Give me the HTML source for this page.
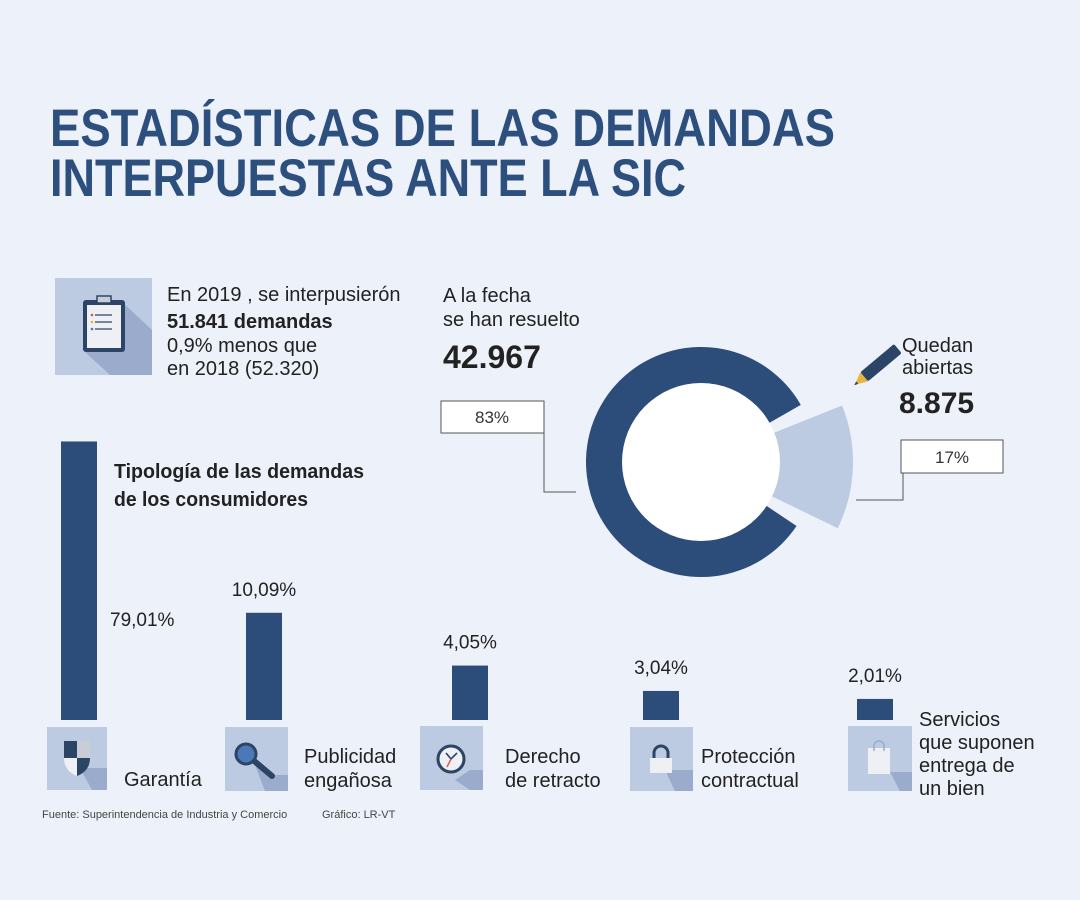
<!DOCTYPE html>
<html><head><meta charset="utf-8"><style>
html,body{margin:0;padding:0;background:#edf1f9;}
svg{display:block;font-family:"Liberation Sans",sans-serif;}
</style></head><body>
<svg id="chart" width="1080" height="900" viewBox="0 0 1080 900" xmlns="http://www.w3.org/2000/svg">
<rect width="1080" height="900" fill="#edf1f9"/>
<g fill="#2c4f7e" font-weight="bold" font-size="53">
<text x="50" y="146" textLength="785" lengthAdjust="spacingAndGlyphs">ESTADÍSTICAS DE LAS DEMANDAS</text>
<text x="50" y="196" textLength="636" lengthAdjust="spacingAndGlyphs">INTERPUESTAS ANTE LA SIC</text>
</g>

<g>
<rect x="55" y="278" width="97" height="97" fill="#bccae2"/>
<polygon points="85,352 120,352 152,375 110,375" fill="#9aabcc"/>
<polygon points="120,300 152,330 152,375 120,352" fill="#9aabcc"/>
<rect x="83" y="300" width="42" height="52" rx="3" fill="#2c4466"/>
<rect x="87" y="305" width="34" height="43" fill="#eef0f3"/>
<rect x="97" y="296" width="14" height="7" fill="#c9ced6" stroke="#2c4466" stroke-width="1.5"/>
<circle cx="92" cy="315" r="1.3" fill="#d9534f"/><line x1="95" y1="315" x2="112" y2="315" stroke="#2c4466" stroke-width="1.3"/>
<circle cx="92" cy="322" r="1.3" fill="#e8b43c"/><line x1="95" y1="322" x2="112" y2="322" stroke="#2c4466" stroke-width="1.3"/>
<circle cx="92" cy="329" r="1.3" fill="#4a78b8"/><line x1="95" y1="329" x2="112" y2="329" stroke="#2c4466" stroke-width="1.3"/>
</g>
<g fill="#222" font-size="20">
<text x="167" y="301">En 2019 , se interpusierón</text>
<text x="167" y="328" font-weight="bold">51.841 demandas</text>
<text x="167" y="352">0,9% menos que</text>
<text x="167" y="375">en 2018 (52.320)</text>
</g>

<g fill="#222">
<text x="443" y="302" font-size="20">A la fecha</text>
<text x="443" y="326" font-size="20">se han resuelto</text>
<text x="443" y="368" font-size="32" font-weight="bold">42.967</text>
</g>
<g fill="#222">
<text x="902" y="352" font-size="20">Quedan</text>
<text x="902" y="374" font-size="20">abiertas</text>
<text x="899" y="413" font-size="30" font-weight="bold">8.875</text>
</g>
<g transform="translate(858,382) rotate(-40)">
<rect x="8" y="-6" width="44" height="12" rx="2" fill="#2c4466"/>
<polygon points="8,-6 8,6 -4,0" fill="#e8b43c"/>
<polygon points="-1,-1.6 -1,1.6 -5,0" fill="#2c4466"/>
</g>

<g id="donut"></g>

<g>
<rect x="441" y="401" width="103" height="32" fill="#fff" stroke="#555" stroke-width="1"/>
<text x="492" y="423" text-anchor="middle" font-size="17" fill="#333">83%</text>
<polyline points="544,433 544,492 576,492" fill="none" stroke="#555" stroke-width="1"/>
</g>
<g>
<rect x="901" y="440" width="102" height="33" fill="#fff" stroke="#555" stroke-width="1"/>
<text x="952" y="463" text-anchor="middle" font-size="17" fill="#333">17%</text>
<polyline points="903,473 903,500 856,500" fill="none" stroke="#555" stroke-width="1"/>
</g>

<g fill="#222" font-size="20" font-weight="bold">
<text x="114" y="478" textLength="250" lengthAdjust="spacingAndGlyphs">Tipología de las demandas</text>
<text x="114" y="506" textLength="194" lengthAdjust="spacingAndGlyphs">de los consumidores</text>
</g>

<g id="bars"></g>

<g>
<rect x="47" y="727" width="60" height="63" fill="#bccae2"/>
<polygon points="80,768 107,768 107,790 92,790" fill="#9aabcc"/>
<path d="M64,741 L90,741 L90,758 Q90,771 77,776 Q64,771 64,758 Z" fill="#eef0f3"/>
<path d="M64,741 L77,741 L77,758 L64,758 Z" fill="#2c4466"/>
<path d="M77,758 L90,758 Q90,771 77,776 Z" fill="#2c4466"/>
<path d="M77,741 L90,741 L90,758 L77,758 Z" fill="#c9ced6"/>
</g>
<g>
<rect x="225" y="727" width="63" height="64" fill="#bccae2"/>
<polygon points="255,765 272,775 288,775 288,791 265,791" fill="#9aabcc"/>
<line x1="253" y1="760" x2="272" y2="776" stroke="#2c4466" stroke-width="6" stroke-linecap="round"/>
<circle cx="246" cy="754" r="10" fill="#4a78b8" stroke="#2c4466" stroke-width="3"/>
</g>
<g>
<rect x="420" y="726" width="63" height="64" fill="#bccae2"/>
<polygon points="470,770 483,770 483,790 470,790 455,780" fill="#9aabcc"/>
<circle cx="451" cy="759" r="13" fill="#eef0f3" stroke="#2c4466" stroke-width="3"/>
<polyline points="446,753 451,759 457,753" fill="none" stroke="#2c4466" stroke-width="1.6"/>
<line x1="451" y1="759" x2="447" y2="767" stroke="#d9534f" stroke-width="1.4"/>
</g>
<g>
<rect x="630" y="727" width="63" height="64" fill="#bccae2"/>
<polygon points="665,770 693,770 693,791 675,791" fill="#9aabcc"/>
<path d="M654,758 v-5 a7,7 0 0 1 14,0 v5" fill="none" stroke="#2c4466" stroke-width="3"/>
<rect x="650" y="758" width="22" height="15" fill="#eef0f3"/>
</g>
<g>
<rect x="848" y="726" width="64" height="65" fill="#bccae2"/>
<polygon points="890,772 912,772 912,791 900,791" fill="#9aabcc"/>
<rect x="868" y="748" width="22" height="26" fill="#eef0f3"/>
<path d="M874,751 v-5 a5,5 0 0 1 10,0 v5" fill="none" stroke="#9aabcc" stroke-width="1.5"/>
</g>

<g fill="#222" font-size="20">
<text x="124" y="786">Garantía</text>
<text x="304" y="763">Publicidad</text><text x="304" y="787">engañosa</text>
<text x="505" y="763">Derecho</text><text x="505" y="787">de retracto</text>
<text x="701" y="763">Protección</text><text x="701" y="787">contractual</text>
<text x="919" y="726">Servicios</text><text x="919" y="749">que suponen</text>
<text x="919" y="772">entrega de</text><text x="919" y="795">un bien</text>
</g>

<g fill="#444" font-size="11">
<text x="42" y="818">Fuente: Superintendencia de Industria y Comercio</text>
<text x="322" y="818">Gráfico: LR-VT</text>
</g>
</svg>
<script>
// Donut data
const donutLabels = ["Resueltas", "Abiertas"];
const donutValues = [42967, 8875];

// Bar data
const barCategories = ["Garantía", "Publicidad engañosa", "Derecho de retracto", "Protección contractual", "Servicios entrega de bien"];
const barValues = [79.01, 10.09, 4.05, 3.04, 2.01];
const barValueLabels = ["79,01%", "10,09%", "4,05%", "3,04%", "2,01%"];

const NS = "http://www.w3.org/2000/svg";

// ---- donut ----
(function(){
  const g = document.getElementById('donut');
  const cx = 701, cy = 462;
  const total = donutValues.reduce((a,b)=>a+b,0);
  const openAngle = donutValues[1]/total*360;
  const openCenter = 2;
  function pt(r,a){const t=a*Math.PI/180;return [cx+r*Math.cos(t), cy+r*Math.sin(t)];}
  function sector(r0,r1,a0,a1){
    const large = (a1-a0)>180?1:0;
    const p1=pt(r1,a0),p2=pt(r1,a1),p3=pt(r0,a1),p4=pt(r0,a0);
    return `M${p1[0]},${p1[1]} A${r1},${r1} 0 ${large} 1 ${p2[0]},${p2[1]} L${p3[0]},${p3[1]} A${r0},${r0} 0 ${large} 0 ${p4[0]},${p4[1]} Z`;
  }
  const darkStart = openCenter + openAngle/2 + 1;
  const darkEnd = openCenter - openAngle/2 + 360 - 1;
  const d = document.createElementNS(NS,'path');
  d.setAttribute('d', sector(78,115,darkStart,darkEnd));
  d.setAttribute('fill','#2c4d79');
  
  
  g.appendChild(d);
  const l = document.createElementNS(NS,'path');
  l.setAttribute('d', sector(78,152,openCenter-openAngle/2+7,openCenter+openAngle/2-7));
  l.setAttribute('fill','#bccae2');
  
  
  g.appendChild(l);
  const c = document.createElementNS(NS,'circle');
  c.setAttribute('cx',cx);c.setAttribute('cy',cy);c.setAttribute('r',79);c.setAttribute('fill','#ffffff');
  
  
  g.appendChild(c);
})();

// ---- bars ----
(function(){
  const g = document.getElementById('bars');
  const baseY = 720, barW = 36;
  const barX = [61, 246, 452, 643, 857];
  // non-linear designer scale via breakpoints
  const dom = [0, 2, 3, 4, 10, 80];
  const rng = [0, 21, 28, 54, 107, 281];
  function h(v){
    for(let i=1;i<dom.length;i++){
      if(v<=dom[i]){const t=(v-dom[i-1])/(dom[i]-dom[i-1]);return rng[i-1]+t*(rng[i]-rng[i-1]);}
    }
    return rng[rng.length-1]*(v/dom[dom.length-1]);
  }
  barValues.forEach((v,i)=>{
    const hh = h(v);
    const r = document.createElementNS(NS,'rect');
    r.setAttribute('x',barX[i]);r.setAttribute('y',baseY-hh);
    r.setAttribute('width',barW);r.setAttribute('height',hh);
    r.setAttribute('fill','#2c4d79');
    
    
    g.appendChild(r);
    const t = document.createElementNS(NS,'text');
    if(i===0){t.setAttribute('x',barX[i]+49);t.setAttribute('y',baseY-94);}
    else {t.setAttribute('x',barX[i]+barW/2);t.setAttribute('y',baseY-hh-17);t.setAttribute('text-anchor','middle');}
    t.setAttribute('font-size','19');t.setAttribute('fill','#222');
    t.textContent = barValueLabels[i];
    
    
    g.appendChild(t);
  });
})();
</script>
</body></html>
